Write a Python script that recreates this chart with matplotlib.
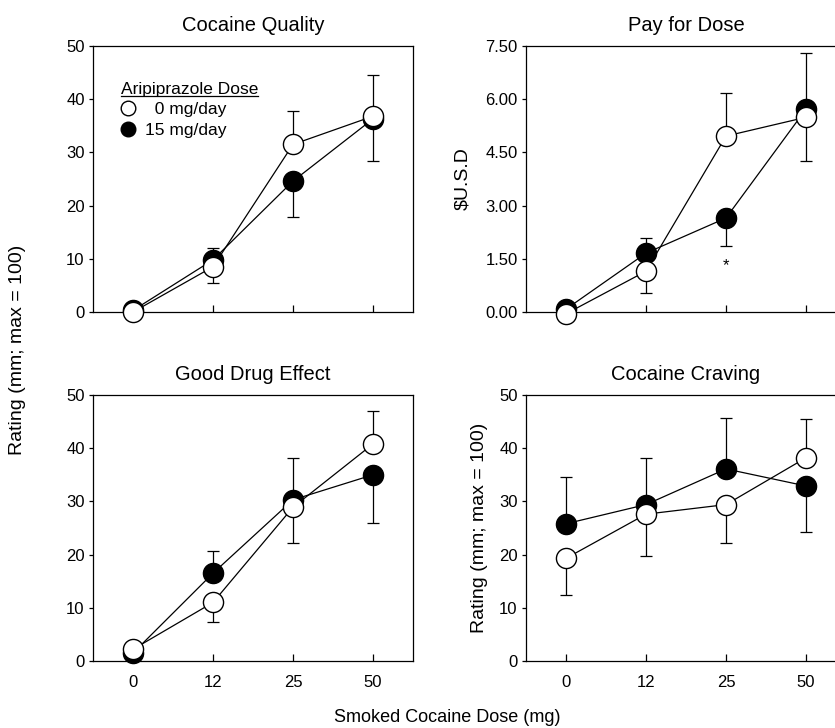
#!/usr/bin/env python3
"""Aripiprazole x smoked cocaine: four subjective-effect panels."""

import matplotlib
matplotlib.use("Agg")
import matplotlib.pyplot as plt
from matplotlib.lines import Line2D

plt.rcParams["font.family"] = ["Liberation Sans", "DejaVu Sans"]

DOSES = ["0", "12", "25", "50"]
GROUP_LABELS = ["  0 mg/day", "15 mg/day"]
LEGEND_TITLE = "Aripiprazole Dose"

# Cocaine Quality
quality_0 = [0.0, 8.5, 31.5, 36.8]
quality_15 = [0.3, 9.8, 24.6, 36.3]
quality_0_up = [0, 0, 6.3, 7.7]
quality_0_dn = [0, 3.0, 0, 0]
quality_15_up = [0, 2.2, 0, 0]
quality_15_dn = [0, 0, 6.8, 8.0]

# Pay for Dose
pay_0 = [-0.05, 1.15, 4.96, 5.49]
pay_15 = [0.08, 1.66, 2.65, 5.72]
pay_0_up = [0, 0, 1.21, 0]
pay_0_dn = [0, 0.62, 0, 1.24]
pay_15_up = [0, 0.42, 0, 1.58]
pay_15_dn = [0, 0, 0.79, 0]

# Good Drug Effect
good_0 = [2.2, 11.0, 28.9, 40.8]
good_15 = [1.5, 16.5, 30.3, 35.0]
good_0_up = [0, 0, 0, 6.2]
good_0_dn = [0, 3.7, 6.8, 0]
good_15_up = [0, 4.1, 7.9, 0]
good_15_dn = [0, 0, 0, 9.0]

# Cocaine Craving
craving_0 = [19.3, 27.6, 29.4, 38.2]
craving_15 = [25.8, 29.4, 36.1, 32.9]
craving_0_up = [0, 0, 0, 7.3]
craving_0_dn = [6.8, 7.9, 7.3, 0]
craving_15_up = [8.7, 8.8, 9.6, 0]
craving_15_dn = [0, 0, 0, 8.7]

RATING_TICKS = [0, 10, 20, 30, 40, 50]
PAY_TICKS = [0.0, 1.5, 3.0, 4.5, 6.0, 7.5]
SIG_INDEX = 2      # dose with significant group difference (pay panel)
SIG_Y = 1.3

W, H = 835, 728


def panel(fig, rect, title, y0, y15, e0, e15, ticks, fmt, xlabels):
    ax = fig.add_axes(rect)
    x = list(range(len(DOSES)))
    ax.errorbar(x, y15, yerr=e15, fmt="none", ecolor="k", elinewidth=0.9,
                capsize=4, capthick=0.9, zorder=2, clip_on=False)
    ax.errorbar(x, y0, yerr=e0, fmt="none", ecolor="k", elinewidth=0.9,
                capsize=4, capthick=0.9, zorder=2, clip_on=False)
    ax.plot(x, y15, "-o", color="k", mfc="k", mec="k", ms=14.5, mew=1.0,
            lw=0.9, zorder=3, clip_on=False)
    ax.plot(x, y0, "-o", color="k", mfc="white", mec="k", ms=14.5, mew=1.0,
            lw=0.9, zorder=4, clip_on=False)
    ax.set_xlim(-0.5, 3.5)
    ax.set_ylim(ticks[0], ticks[-1])
    ax.set_xticks(x)
    ax.set_xticklabels(DOSES if xlabels else [])
    ax.set_yticks(ticks)
    ax.set_yticklabels([fmt.format(t) for t in ticks])
    ax.tick_params(axis="x", direction="in", length=5, width=0.9,
                   labelsize=12, pad=10)
    ax.tick_params(axis="y", direction="out", length=3, width=0.9,
                   labelsize=12, pad=3)
    for s in ax.spines.values():
        s.set_linewidth(0.9)
    ax.set_title(title, fontsize=14.5, pad=11)
    return ax


def main() -> None:
    fig = plt.figure(figsize=(W / 100, H / 100), dpi=100)

    aw, ah = 320 / W, 266 / H
    top_b, bot_b = (H - 312) / H, (H - 661) / H
    left_l, right_l = 93 / W, 526 / W

    ax1 = panel(fig, [left_l, top_b, aw, ah], "Cocaine Quality",
                quality_0, quality_15, [quality_0_dn, quality_0_up],
                [quality_15_dn, quality_15_up], RATING_TICKS, "{:.0f}", False)
    ax2 = panel(fig, [right_l, top_b, aw, ah], "Pay for Dose",
                pay_0, pay_15, [pay_0_dn, pay_0_up],
                [pay_15_dn, pay_15_up], PAY_TICKS, "{:.2f}", False)
    panel(fig, [left_l, bot_b, aw, ah], "Good Drug Effect",
          good_0, good_15, [good_0_dn, good_0_up],
          [good_15_dn, good_15_up], RATING_TICKS, "{:.0f}", True)
    ax4 = panel(fig, [right_l, bot_b, aw, ah], "Cocaine Craving",
                craving_0, craving_15, [craving_0_dn, craving_0_up],
                [craving_15_dn, craving_15_up], RATING_TICKS, "{:.0f}", True)

    ax2.text(SIG_INDEX, SIG_Y, "*", ha="center", va="center", fontsize=12)
    ax2.set_ylabel("\\$U.S.D", fontsize=14, labelpad=10)
    ax4.set_ylabel("Rating (mm; max = 100)", fontsize=14, labelpad=8)

    fig.text(18 / W, 1 - 350 / H, "Rating (mm; max = 100)", rotation=90,
             ha="center", va="center", fontsize=14)
    fig.text(447 / W, 1 - 717 / H, "Smoked Cocaine Dose (mg)",
             ha="center", va="center", fontsize=13)

    handles = [
        Line2D([], [], ls="none", marker="o", ms=10.5, mfc="white", mec="k", mew=1.0),
        Line2D([], [], ls="none", marker="o", ms=10.5, mfc="k", mec="k", mew=1.0),
    ]
    leg = ax1.legend(handles, GROUP_LABELS, title=LEGEND_TITLE, loc="upper left",
                     bbox_to_anchor=(0.0875, 0.865), frameon=False, fontsize=12.5,
                     title_fontsize=12.5, handlelength=0.8, handletextpad=0.6,
                     labelspacing=0.3, borderpad=0, borderaxespad=0,
                     alignment="left")

    # underline the legend title
    fig.canvas.draw()
    bb = leg.get_title().get_window_extent()
    inv = fig.transFigure.inverted()
    (x0, y0), (x1, _) = inv.transform([(bb.x0, bb.y0 + 1), (bb.x1, bb.y0 + 1)])
    fig.add_artist(Line2D([x0, x1], [y0, y0], color="k", lw=0.9,
                          transform=fig.transFigure))

    fig.savefig("out.png", dpi=100)


if __name__ == "__main__":
    main()
